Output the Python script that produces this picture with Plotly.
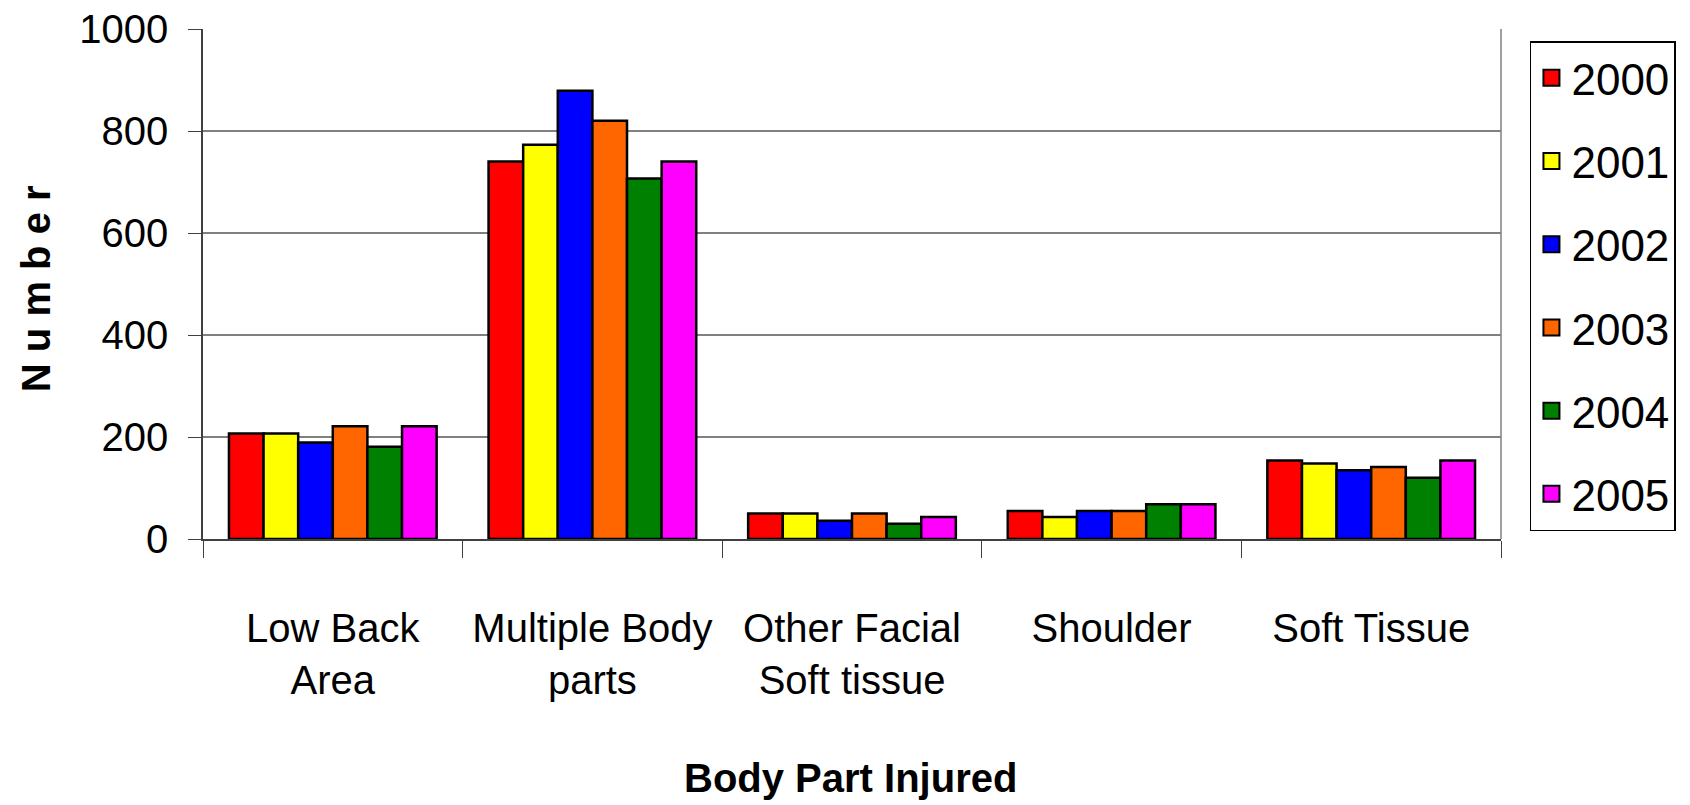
import plotly.graph_objects as go

categories = ["Low Back<br>Area", "Multiple Body<br>parts", "Other Facial<br>Soft tissue", "Shoulder", "Soft Tissue"]
years = ["2000", "2001", "2002", "2003", "2004", "2005"]
colors = ["#FF0000", "#FFFF00", "#0000FF", "#FF6600", "#008000", "#FF00FF"]

v2000 = [207, 740, 50, 55, 154]
v2001 = [207, 773, 50, 43, 148]
v2002 = [189, 879, 36, 55, 135]
v2003 = [221, 820, 50, 55, 141]
v2004 = [181, 707, 30, 68, 120]
v2005 = [221, 740, 43, 68, 154]
series = [v2000, v2001, v2002, v2003, v2004, v2005]

y_ticks = [0, 200, 400, 600, 800, 1000]

FONT = "Liberation Sans, Arial, sans-serif"

fig = go.Figure()
for i, (yr, col, vals) in enumerate(zip(years, colors, series)):
    fig.add_trace(go.Bar(
        x=categories, y=vals, name=yr,
        marker=dict(color=col, line=dict(color="black", width=2.5)),
        showlegend=False,
    ))
    fig.add_trace(go.Scatter(
        x=[None], y=[None], name=yr, mode="markers",
        marker=dict(symbol="square", size=16, color=col, line=dict(color="black", width=2)),
        legendgroup=yr, showlegend=True,
    ))

fig.update_layout(
    width=1690, height=805,
    margin=dict(l=203, r=189, t=29, b=266),
    paper_bgcolor="white", plot_bgcolor="white",
    barmode="group", bargap=0.2, bargroupgap=0,
    font=dict(family=FONT, size=40, color="black"),
    showlegend=True,
    legend=dict(
        x=1.0223, xanchor="left", y=0.976, yanchor="top",
        bordercolor="black", borderwidth=1.5, bgcolor="white",
        font=dict(family=FONT, size=44, color="black"),
        tracegroupgap=23, itemwidth=30,
    ),
    xaxis=dict(
        type="category", automargin=False,
        showline=True, linecolor="#404040", linewidth=1.5,
        ticks="outside", tickson="boundaries", ticklen=17, tickcolor="#404040",
        tickangle=0, ticklabelstandoff=53,
        showgrid=False,
    ),
    yaxis=dict(
        range=[0, 1000], tickvals=y_ticks, automargin=False,
        showline=True, linecolor="#404040", linewidth=1.5,
        ticks="outside", ticklen=13, tickcolor="#404040",
        ticklabelstandoff=12,
        showgrid=True, gridcolor="#808080", gridwidth=1.5,
        zeroline=False,
    ),
    annotations=[
        dict(text="<b>Body Part Injured</b>", xref="paper", yref="paper",
             x=0.499, y=-0.469, xanchor="center", yanchor="middle", showarrow=False,
             font=dict(family=FONT, size=40, color="black")),
        dict(text="<b>N u m b e r</b>", xref="paper", yref="paper",
             x=-0.129, y=0.491, xanchor="center", yanchor="middle", showarrow=False,
             textangle=-90, font=dict(family=FONT, size=40, color="black")),
    ],
)

fig.add_shape(type="line", xref="paper", yref="paper", x0=1, x1=1, y0=0, y1=1,
              line=dict(color="#808080", width=1.5))

fig.write_html("out.html", config={"displayModeBar": False},
               post_script="document.body.style.margin='0';document.body.style.overflow='hidden';")
